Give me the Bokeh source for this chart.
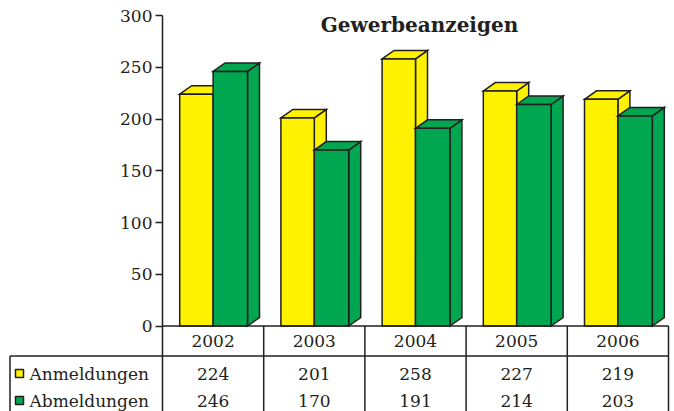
from bokeh.plotting import figure
from bokeh.models import Range1d, LinearAxis, FixedTicker, ColumnDataSource
from bokeh.core.properties import value
from bokeh.embed import file_html
from bokeh.resources import INLINE

# ---- data ----
years = ["2002", "2003", "2004", "2005", "2006"]
anmeldungen = [224, 201, 258, 227, 219]
abmeldungen = [246, 170, 191, 214, 203]
series_names = ["Anmeldungen", "Abmeldungen"]
series_colors = ["#FFF200", "#00A650"]
y_ticks = [0, 50, 100, 150, 200, 250, 300]
title_text = "Gewerbeanzeigen"

# ---- layout (pixels inside the canvas) ----
W, H = 674, 411
X0_PX, X5_PX = 162.0, 668.0      # canvas x of category 0 and 5
Y0_PX, Y300_PX = 325.5, 15.0     # canvas y of value 0 and 300
sx = (X5_PX - X0_PX) / 5.0
sy = (Y0_PX - Y300_PX) / 300.0
x_start = -X0_PX / sx
x_end = 5 + (W - X5_PX) / sx
y_end = 300 + Y300_PX / sy
y_start = -(H - Y0_PX) / sy


def dy_px(canvas_y):
    return (Y0_PX - canvas_y) / sy


def dx_px(canvas_x):
    return (canvas_x - X0_PX) / sx


INK = "#231F20"
FONT = value("DejaVu Serif")

p = figure(width=W, height=H,
           x_range=Range1d(x_start, x_end), y_range=Range1d(y_start, y_end),
           x_axis_type=None, y_axis_type=None,
           toolbar_location=None, output_backend="svg",
           min_border=0, outline_line_color=None)
p.background_fill_color = "white"
p.border_fill_color = "white"

# ---- 3D bars ----
depth_x = 12.0 / sx
depth_y = 8.5 / sy
offsets = [(0.17, 0.50), (0.50, 0.84)]
series_vals = [anmeldungen, abmeldungen]

xs, ys, cols = [], [], []
for i in range(len(years)):
    for s, vals in enumerate(series_vals):
        v = vals[i]
        a = i + offsets[s][0]
        b = i + offsets[s][1]
        c = series_colors[s]
        # side face
        xs.append([b, b + depth_x, b + depth_x, b])
        ys.append([0, depth_y, v + depth_y, v])
        cols.append(c)
        # top face
        xs.append([a, a + depth_x, b + depth_x, b])
        ys.append([v, v + depth_y, v + depth_y, v])
        cols.append(c)
        # front face
        xs.append([a, b, b, a])
        ys.append([0, 0, v, v])
        cols.append(c)

p.patches(xs="xs", ys="ys", fill_color="c", line_color=INK, line_width=1.5,
          line_join="miter",
          source=ColumnDataSource(dict(xs=xs, ys=ys, c=cols)))

# ---- y axis ----
yaxis = LinearAxis(fixed_location=0, bounds=(0, 300),
                   ticker=FixedTicker(ticks=y_ticks))
yaxis.axis_line_color = INK
yaxis.axis_line_width = 1.5
yaxis.major_tick_line_color = INK
yaxis.major_tick_line_width = 1.5
yaxis.major_tick_out = 7
yaxis.major_tick_in = 0
yaxis.minor_tick_out = 0
yaxis.minor_tick_in = 0
yaxis.major_label_text_font = "DejaVu Serif"
yaxis.major_label_text_font_size = "17px"
yaxis.major_label_text_color = INK
yaxis.major_label_standoff = 3
p.add_layout(yaxis, "left")

# ---- data table ----
row_line_y = dy_px(355.5)
leg_x = dx_px(9.5)
n = len(years)
seg_x0 = [0, leg_x] + [float(k) for k in range(0, n + 1)] + [leg_x]
seg_x1 = [n, n] + [float(k) for k in range(0, n + 1)] + [leg_x]
seg_y0 = [0, row_line_y] + [0.0] * (n + 1) + [row_line_y]
seg_y1 = [0, row_line_y] + [y_start] * (n + 1) + [y_start]
p.segment(x0=seg_x0, y0=seg_y0, x1=seg_x1, y1=seg_y1,
          line_color=INK, line_width=1.5)

centers = [k + 0.5 for k in range(n)]
p.text(x=centers, y=[dy_px(340)] * n, text=years,
       text_font=FONT, text_font_size="17px", text_color=INK,
       text_align="center", text_baseline="middle")

row_ys = [dy_px(373), dy_px(400)]
for s, vals in enumerate(series_vals):
    p.text(x=centers, y=[row_ys[s]] * n, text=[str(v) for v in vals],
           text_font=FONT, text_font_size="17px", text_color=INK,
           text_align="center", text_baseline="middle")

p.scatter(x=[dx_px(19)] * 2, y=row_ys, marker="square", size=8,
          fill_color=series_colors, line_color=INK, line_width=1.5)
p.text(x=[dx_px(29)] * 2, y=row_ys, text=series_names,
       text_font=FONT, text_font_size="17px", text_color=INK,
       text_align="left", text_baseline="middle")

# ---- title ----
p.text(x=[dx_px(419)], y=[dy_px(24)], text=[title_text],
       text_font=FONT, text_font_size="20px", text_font_style="bold",
       text_color=INK, text_align="center", text_baseline="middle")

open("out.html", "w").write(file_html(p, INLINE))
